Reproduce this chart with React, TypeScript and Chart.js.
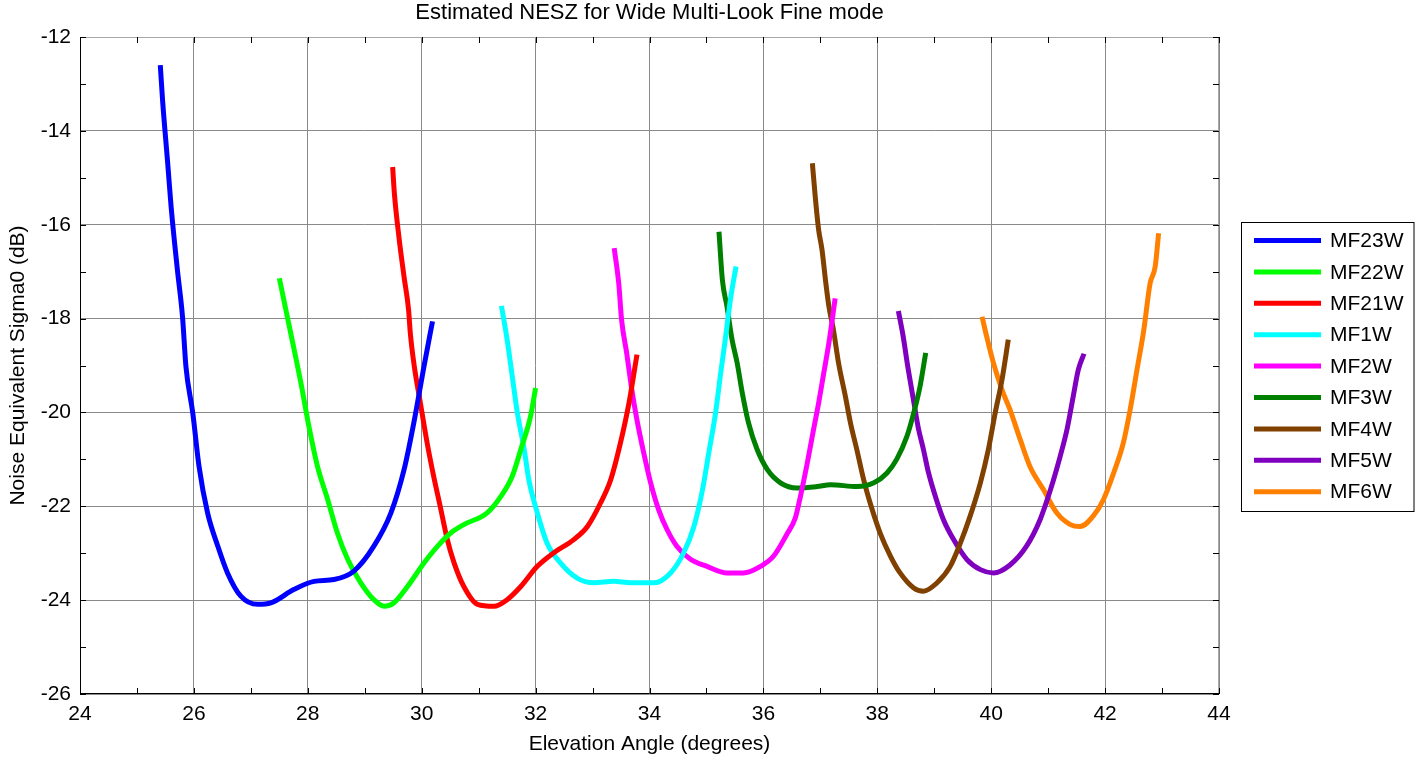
import React, { useEffect, useRef } from 'react';
import { Chart, registerables } from 'chart.js';

Chart.register(...registerables);

// ---- Data ----
const chartTitle = 'Estimated NESZ for Wide Multi-Look Fine mode';
const xAxisTitle = 'Elevation Angle (degrees)';
const yAxisTitle = 'Noise Equivalent Sigma0 (dB)';

const xTickValues = [24, 26, 28, 30, 32, 34, 36, 38, 40, 42, 44];
const yTickValues = [-12, -14, -16, -18, -20, -22, -24, -26];

const seriesNames = ['MF23W', 'MF22W', 'MF21W', 'MF1W', 'MF2W', 'MF3W', 'MF4W', 'MF5W', 'MF6W'];
const seriesColors = ['#0000ff', '#00ff00', '#ff0000', '#00ffff', '#ff00ff', '#008000', '#804000', '#8000c0', '#ff8000'];

const mf23wX = [25.41, 25.45, 25.54, 25.6, 25.71, 25.8, 25.86, 25.98, 26.09, 26.24, 26.42, 26.59, 26.82, 27.12, 27.35, 27.76, 28.11, 28.46, 28.81, 29.16, 29.46, 29.69, 29.86, 30.04, 30.19];
const mf23wY = [-12.6, -13.35, -14.69, -15.62, -16.96, -17.96, -19.02, -20.01, -21.15, -22.14, -22.85, -23.42, -23.91, -24.09, -24.06, -23.77, -23.6, -23.56, -23.38, -22.85, -22.14, -21.22, -20.23, -19.02, -18.06];

const mf22wX = [27.5, 27.64, 27.7, 27.88, 28.02, 28.17, 28.35, 28.52, 28.7, 28.93, 29.16, 29.34, 29.51, 29.75, 30.04, 30.28, 30.51, 30.74, 31.15, 31.39, 31.59, 31.74, 31.91, 32.0];
const mf22wY = [-17.14, -17.96, -18.31, -19.38, -20.3, -21.15, -21.86, -22.57, -23.13, -23.63, -23.99, -24.13, -24.06, -23.71, -23.21, -22.85, -22.57, -22.39, -22.14, -21.79, -21.36, -20.79, -20.09, -19.48];

const mf21wX = [29.49, 29.52, 29.6, 29.69, 29.77, 29.8, 29.87, 29.97, 30.1, 30.21, 30.33, 30.45, 30.57, 30.74, 30.98, 31.27, 31.5, 31.74, 32.03, 32.32, 32.67, 32.91, 33.14, 33.32, 33.49, 33.64, 33.78];
const mf21wY = [-14.77, -15.33, -16.26, -17.11, -17.82, -18.31, -19.02, -19.75, -20.68, -21.36, -22.03, -22.71, -23.21, -23.71, -24.09, -24.13, -23.99, -23.71, -23.28, -22.99, -22.71, -22.43, -21.93, -21.43, -20.65, -19.8, -18.77];

const mf1wX = [31.4, 31.5, 31.59, 31.68, 31.8, 31.88, 32.03, 32.2, 32.44, 32.73, 33.02, 33.37, 33.67, 34.08, 34.37, 34.6, 34.78, 34.93, 35.04, 35.16, 35.25, 35.33, 35.42, 35.52];
const mf1wY = [-17.73, -18.45, -19.23, -20.01, -20.79, -21.43, -22.14, -22.78, -23.21, -23.53, -23.63, -23.6, -23.63, -23.63, -23.42, -22.99, -22.43, -21.65, -20.87, -20.01, -19.16, -18.45, -17.6, -16.89];

const mf2wX = [33.38, 33.46, 33.51, 33.6, 33.69, 33.78, 33.9, 34.02, 34.16, 34.31, 34.48, 34.72, 35.01, 35.36, 35.65, 35.95, 36.18, 36.41, 36.56, 36.65, 36.77, 36.88, 36.97, 37.06, 37.15, 37.26];
const mf2wY = [-16.5, -17.25, -18.03, -18.74, -19.52, -20.16, -20.87, -21.5, -22.07, -22.5, -22.85, -23.13, -23.28, -23.42, -23.42, -23.28, -23.06, -22.6, -22.25, -21.79, -21.08, -20.37, -19.8, -19.16, -18.52, -17.57];

const mf3wX = [35.22, 35.28, 35.36, 35.45, 35.54, 35.63, 35.74, 35.89, 36.07, 36.3, 36.59, 36.94, 37.18, 37.64, 37.94, 38.17, 38.34, 38.52, 38.64, 38.75, 38.85];
const mf3wY = [-16.15, -17.18, -17.74, -18.45, -18.95, -19.59, -20.23, -20.79, -21.22, -21.5, -21.61, -21.58, -21.54, -21.58, -21.5, -21.29, -21.0, -20.51, -20.01, -19.45, -18.73];

const mf4wX = [36.86, 36.91, 36.97, 37.03, 37.09, 37.15, 37.23, 37.32, 37.44, 37.53, 37.64, 37.76, 37.91, 38.05, 38.23, 38.4, 38.64, 38.81, 39.05, 39.28, 39.46, 39.63, 39.81, 39.95, 40.07, 40.19, 40.3];
const mf4wY = [-14.69, -15.4, -16.11, -16.54, -17.18, -17.74, -18.24, -18.95, -19.66, -20.23, -20.79, -21.43, -22.07, -22.57, -23.06, -23.42, -23.74, -23.81, -23.63, -23.28, -22.78, -22.21, -21.5, -20.79, -20.01, -19.3, -18.45];

const mf5wX = [38.37, 38.45, 38.54, 38.64, 38.72, 38.81, 38.9, 39.02, 39.16, 39.34, 39.57, 39.81, 40.04, 40.33, 40.62, 40.86, 41.04, 41.21, 41.33, 41.44, 41.53, 41.63];
const mf5wY = [-17.84, -18.35, -19.06, -19.77, -20.33, -20.79, -21.29, -21.79, -22.28, -22.71, -23.13, -23.35, -23.42, -23.25, -22.85, -22.28, -21.65, -20.94, -20.37, -19.66, -19.09, -18.75];

const mf6wX = [39.84, 39.92, 40.04, 40.19, 40.33, 40.51, 40.68, 40.92, 41.15, 41.39, 41.56, 41.79, 41.97, 42.15, 42.32, 42.44, 42.56, 42.68, 42.79, 42.88, 42.94];
const mf6wY = [-17.96, -18.38, -18.95, -19.52, -19.94, -20.58, -21.15, -21.65, -22.14, -22.39, -22.43, -22.21, -21.86, -21.29, -20.65, -19.94, -19.09, -18.24, -17.25, -16.89, -16.18];

const seriesX = [mf23wX, mf22wX, mf21wX, mf1wX, mf2wX, mf3wX, mf4wX, mf5wX, mf6wX];
const seriesY = [mf23wY, mf22wY, mf21wY, mf1wY, mf2wY, mf3wY, mf4wY, mf5wY, mf6wY];

// ---- Layout / style ----
const W = 1417;
const H = 758;
const FONT = 'Arial, "Liberation Sans", Helvetica, sans-serif';
const FS = 21;

const titlePlugin = {
  id: 'axesTitle',
  afterDraw(chart: any) {
    const { ctx, chartArea } = chart;
    ctx.save();
    ctx.font = `22px ${FONT}`;
    ctx.fillStyle = '#000000';
    ctx.textAlign = 'center';
    ctx.textBaseline = 'middle';
    ctx.fillText(chartTitle, (chartArea.left + chartArea.right) / 2, 13);
    ctx.restore();
  },
};

const framePlugin = {
  id: 'matlabFrame',
  afterDatasetsDraw(chart: any) {
    const { ctx, chartArea } = chart;
    const { left, right, top, bottom } = chartArea;
    const xs = chart.scales.x;
    const ys = chart.scales.y;
    ctx.save();
    ctx.strokeStyle = '#a8a8a8';
    ctx.lineWidth = 1;
    ctx.beginPath();
    ctx.moveTo(left, top + 0.5);
    ctx.lineTo(right, top + 0.5);
    ctx.moveTo(right - 0.5, top);
    ctx.lineTo(right - 0.5, bottom);
    ctx.stroke();
    ctx.strokeStyle = '#000000';
    ctx.beginPath();
    ctx.moveTo(left + 0.5, top);
    ctx.lineTo(left + 0.5, bottom);
    ctx.moveTo(left, bottom - 0.5);
    ctx.lineTo(right, bottom - 0.5);
    ctx.stroke();
    ctx.beginPath();
    for (let v = xs.min; v <= xs.max; v += 1) {
      const px = Math.round(xs.getPixelForValue(v)) + 0.5;
      ctx.moveTo(px, bottom);
      ctx.lineTo(px, bottom - 6);
      ctx.moveTo(px, top);
      ctx.lineTo(px, top + 6);
    }
    for (let v = ys.min; v <= ys.max; v += 1) {
      const py = Math.round(ys.getPixelForValue(v)) + 0.5;
      ctx.moveTo(left, py);
      ctx.lineTo(left + 6, py);
      ctx.moveTo(right, py);
      ctx.lineTo(right - 6, py);
    }
    ctx.stroke();
    ctx.restore();
  },
};

const legendPlugin = {
  id: 'boxLegend',
  afterDraw(chart: any) {
    const { ctx } = chart;
    const boxL = 1241;
    const boxT = 222.5;
    const boxR = 1413.5;
    const boxB = 511.5;
    ctx.save();
    ctx.fillStyle = '#ffffff';
    ctx.fillRect(boxL, boxT, boxR - boxL, boxB - boxT);
    ctx.strokeStyle = '#000000';
    ctx.lineWidth = 1;
    ctx.strokeRect(boxL + 0.5, boxT, boxR - boxL, boxB - boxT);
    ctx.font = `${FS}px ${FONT}`;
    ctx.textBaseline = 'middle';
    ctx.textAlign = 'left';
    chart.data.datasets.forEach((ds: any, i: number) => {
      const y = 240.5 + i * 31.4;
      ctx.strokeStyle = ds.borderColor;
      ctx.lineWidth = 5;
      ctx.beginPath();
      ctx.moveTo(1254, y);
      ctx.lineTo(1321, y);
      ctx.stroke();
      ctx.fillStyle = '#000000';
      ctx.fillText(ds.label, 1330, y + 1);
    });
    ctx.restore();
  },
};

export default function App() {
  const canvasRef = useRef<HTMLCanvasElement | null>(null);

  useEffect(() => {
    if (!canvasRef.current) return;
    const datasets = seriesNames.map((name, i) => ({
      label: name,
      data: seriesX[i].map((x, j) => ({ x, y: seriesY[i][j] })),
      borderColor: seriesColors[i],
      backgroundColor: seriesColors[i],
      borderWidth: 5,
      pointRadius: 0,
      fill: false,
      cubicInterpolationMode: 'monotone' as const,
      borderCapStyle: 'butt' as const,
      borderJoinStyle: 'round' as const,
    }));

    const chart = new Chart(canvasRef.current, {
      type: 'line',
      data: { datasets },
      options: {
        responsive: false,
        animation: false,
        maintainAspectRatio: false,
        layout: { padding: { left: 0, right: W - 1219, top: 37, bottom: 0 } },
        plugins: {
          legend: { display: false },
          tooltip: { enabled: false },
          title: { display: false },
        },
        scales: {
          x: {
            type: 'linear',
            min: 24,
            max: 44,
            afterFit: (s: any) => { s.height = H - 694; },
            afterBuildTicks: (s: any) => { s.ticks = xTickValues.map((v) => ({ value: v })); },
            ticks: { color: '#000000', font: { family: FONT, size: FS }, padding: 8, maxRotation: 0, autoSkip: false },
            grid: { color: '#8a8a8a', lineWidth: 1, drawTicks: false },
            border: { display: false },
            title: {
              display: true,
              text: xAxisTitle,
              color: '#000000',
              font: { family: FONT, size: FS },
              padding: { top: 0, bottom: 1 },
            },
          },
          y: {
            type: 'linear',
            min: -26,
            max: -12,
            afterFit: (s: any) => { s.width = 80; },
            afterBuildTicks: (s: any) => { s.ticks = yTickValues.map((v) => ({ value: v })); },
            ticks: { color: '#000000', font: { family: FONT, size: FS }, padding: 9, autoSkip: false },
            grid: { color: '#8a8a8a', lineWidth: 1, drawTicks: false },
            border: { display: false },
            title: {
              display: true,
              text: yAxisTitle,
              color: '#000000',
              font: { family: FONT, size: FS },
              padding: { top: 5.4, bottom: 0 },
            },
          },
        },
      },
      plugins: [framePlugin, legendPlugin, titlePlugin],
    });
    return () => chart.destroy();
  }, []);

  return (
    <div style={{ position: 'fixed', left: 0, top: 0, width: W, height: H, background: '#ffffff' }}>
      <canvas ref={canvasRef} width={W} height={H} style={{ width: W, height: H, display: 'block' }} />
    </div>
  );
}
